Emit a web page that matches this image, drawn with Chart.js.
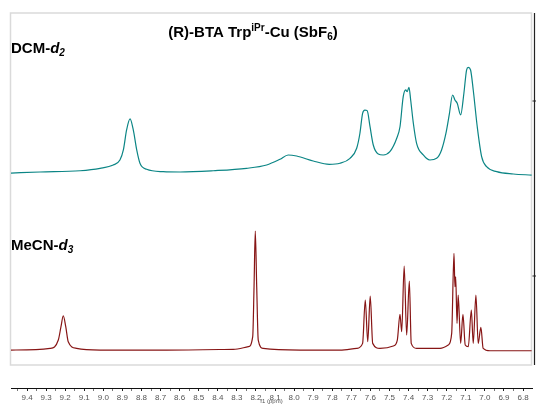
<!DOCTYPE html>
<html>
<head>
<meta charset="utf-8">
<script src="https://cdn.jsdelivr.net/npm/chart.js@4.4.1/dist/chart.umd.min.js"></script>
<style>
  html, body { margin: 0; padding: 0; background: #fff; }
  #wrap { width: 536px; height: 405px; position: relative; }
</style>
</head>
<body>
<div id="wrap"><canvas id="nmr" width="536" height="405"></canvas></div>
<script>
// 1H NMR traces, chemical shift (ppm) and relative intensity
const dcmPpm = [9.484, 9.332, 9.122, 9.017, 8.948, 8.913, 8.895, 8.878, 8.860, 8.843, 8.825, 8.808, 8.773, 8.686, 8.598,
  8.424, 8.249, 8.144, 8.074, 8.031, 7.987, 7.900, 7.816, 7.760, 7.707, 7.672, 7.655, 7.641, 7.629, 7.617, 7.602,
  7.585, 7.559, 7.533, 7.498, 7.462, 7.445, 7.428, 7.415, 7.407, 7.398, 7.389, 7.375, 7.358, 7.323, 7.288, 7.253,
  7.227, 7.204, 7.187, 7.169, 7.157, 7.145, 7.127, 7.110, 7.096, 7.087, 7.075, 7.061, 7.040, 7.017, 6.991, 6.938,
  6.851, 6.755];
const dcmInt = [-1.0, 0, 1.2, 3.5, 6.7, 11.4, 21.0, 40.0, 50.5, 40.0, 21.0, 8.3, 2.6, 0.3, 0,
  1.2, 3.5, 6.7, 12.1, 16.2, 15.2, 10.5, 7.3, 8.3, 13.0, 22.6, 36.9, 55.9, 59.0, 58.4, 43.1,
  25.7, 17.1, 16.2, 19.3, 32.1, 43.1, 71.7, 78.1, 76.5, 80.7, 68.6, 46.4, 27.3, 16.2, 11.4, 13.0,
  21.0, 36.9, 54.3, 73.3, 68.6, 65.4, 54.3, 75.0, 97.1, 99.7, 97.1, 78.1, 43.1, 14.6, 5.0, 0.3,
  -1.9, -2.9];

const mecnPpm = [9.484, 9.279, 9.236, 9.222, 9.210, 9.197, 9.184, 9.140, 9.017, 8.668, 8.319, 8.240, 8.217, 8.210,
  8.2035, 8.196, 8.188, 8.162, 7.969, 7.760, 7.672, 7.641, 7.627, 7.614, 7.601, 7.588, 7.550, 7.480, 7.459, 7.445,
  7.436, 7.423, 7.410, 7.396, 7.386, 7.358, 7.235, 7.192, 7.174, 7.162, 7.157, 7.153, 7.146, 7.140, 7.127, 7.115,
  7.103, 7.087, 7.071, 7.061, 7.047, 7.035, 7.021, 7.009, 6.973, 6.755];
const mecnInt = [0, 1.4, 8.4, 19.6, 28.8, 19.6, 7.0, 1.4, 0, 0, 0.6, 2.8, 11.2, 53.2,
  100, 53.2, 8.4, 1.4, 0, 0, 1.4, 5.6, 42.0, 7.0, 45.4, 5.6, 1.4, 3.4, 8.4, 30.0,
  15.4, 70.6, 12.6, 58.0, 5.6, 1.4, 1.4, 4.2, 14.0, 81.3, 53.2, 61.6, 22.4, 46.2, 5.6, 30.0,
  4.2, 2.8, 33.6, 5.6, 46.2, 5.6, 19.1, 1.4, -0.6, -0.6];

const FONT = '"Liberation Sans", Arial, sans-serif';

const toPoints = (xs, ys) => xs.map((x, i) => ({ x, y: ys[i] }));

// draws a run of text pieces (for sub/superscripts)
function drawRich(ctx, x, y, parts, align) {
  let total = 0;
  parts.forEach((p) => { ctx.font = p.font; total += ctx.measureText(p.t).width; });
  let cx = align === 'center' ? x - total / 2 : x;
  ctx.textBaseline = 'alphabetic';
  ctx.textAlign = 'left';
  parts.forEach((p) => {
    ctx.font = p.font;
    ctx.fillText(p.t, cx, y + (p.dy || 0));
    cx += ctx.measureText(p.t).width;
  });
}

const framePlugin = {
  id: 'frame',
  beforeDatasetsDraw(chart) {
    const { ctx, chartArea } = chart;
    ctx.save();
    ctx.strokeStyle = '#dadada';
    ctx.lineWidth = 1.5;
    ctx.strokeRect(chartArea.left - 0.5, chartArea.top, chartArea.right - chartArea.left, 352);
    ctx.restore();
  },
  afterDraw(chart) {
    const { ctx, chartArea } = chart;
    const rx = chartArea.right + 2.5;
    ctx.save();
    ctx.strokeStyle = '#222';
    ctx.lineWidth = 1.2;
    ctx.beginPath();
    ctx.moveTo(rx, chartArea.top);
    ctx.lineTo(rx, chartArea.top + 352);
    ctx.moveTo(rx - 2, 101); ctx.lineTo(rx + 2, 101);
    ctx.moveTo(rx - 2, 276); ctx.lineTo(rx + 2, 276);
    ctx.stroke();

    ctx.fillStyle = '#000';
    const big = 'bold 15px ' + FONT;
    const small = 'bold 10px ' + FONT;
    drawRich(ctx, 253, 37, [
      { t: '(R)-BTA Trp', font: big },
      { t: 'iPr', font: small, dy: -6 },
      { t: '-Cu (SbF', font: big },
      { t: '6', font: small, dy: 3 },
      { t: ')', font: big },
    ], 'center');

    const lab = 'bold 15px ' + FONT;
    const labIt = 'italic bold 15px ' + FONT;
    const subIt = 'italic bold 10px ' + FONT;
    drawRich(ctx, 11, 53, [
      { t: 'DCM-', font: lab }, { t: 'd', font: labIt }, { t: '2', font: subIt, dy: 3 },
    ]);
    drawRich(ctx, 11, 250, [
      { t: 'MeCN-', font: lab }, { t: 'd', font: labIt }, { t: '3', font: subIt, dy: 3 },
    ]);
    ctx.restore();
  },
};

new Chart(document.getElementById('nmr'), {
  type: 'line',
  data: {
    datasets: [
      {
        label: 'DCM-d2',
        data: toPoints(dcmPpm, dcmInt),
        yAxisID: 'yDcm',
        borderColor: '#0b8585',
        borderWidth: 1.2,
        pointRadius: 0,
        cubicInterpolationMode: 'monotone',
      },
      {
        label: 'MeCN-d3',
        data: toPoints(mecnPpm, mecnInt),
        yAxisID: 'yMecn',
        borderColor: '#871515',
        borderWidth: 1.2,
        pointRadius: 0,
        cubicInterpolationMode: 'monotone',
      },
    ],
  },
  options: {
    responsive: false,
    animation: false,
    events: [],
    layout: { padding: { left: 11, right: 4, top: 13, bottom: 0 } },
    plugins: { legend: { display: false }, tooltip: { enabled: false } },
    scales: {
      x: {
        type: 'linear',
        reverse: true,
        min: 6.753,
        max: 9.484,
        afterFit: (s) => { s.height = 17; },
        border: { display: true, color: '#111', width: 1 },
        grid: {
          drawOnChartArea: false,
          tickLength: 3,
          tickColor: (c) => (Math.round(c.tick.value * 100) % 10 === 0 ? '#222' : '#777'),
        },
        ticks: {
          stepSize: 0.05,
          autoSkip: false,
          includeBounds: false,
          maxRotation: 0,
          padding: 2,
          color: '#555',
          font: { family: FONT, size: 8 },
          callback: (v) => {
            const r = Math.round(v * 100);
            return r % 10 === 0 ? (r / 100).toFixed(1) : '';
          },
        },
        title: {
          display: true,
          text: 'f1 (ppm)',
          color: '#555',
          padding: 0,
          font: { family: FONT, size: 6 },
        },
      },
      yDcm: { display: false, min: -205.7, max: 151.4 },
      yMecn: { display: false, min: -31.9, max: 283.2 },
    },
  },
  plugins: [framePlugin],
});
</script>
</body>
</html>
